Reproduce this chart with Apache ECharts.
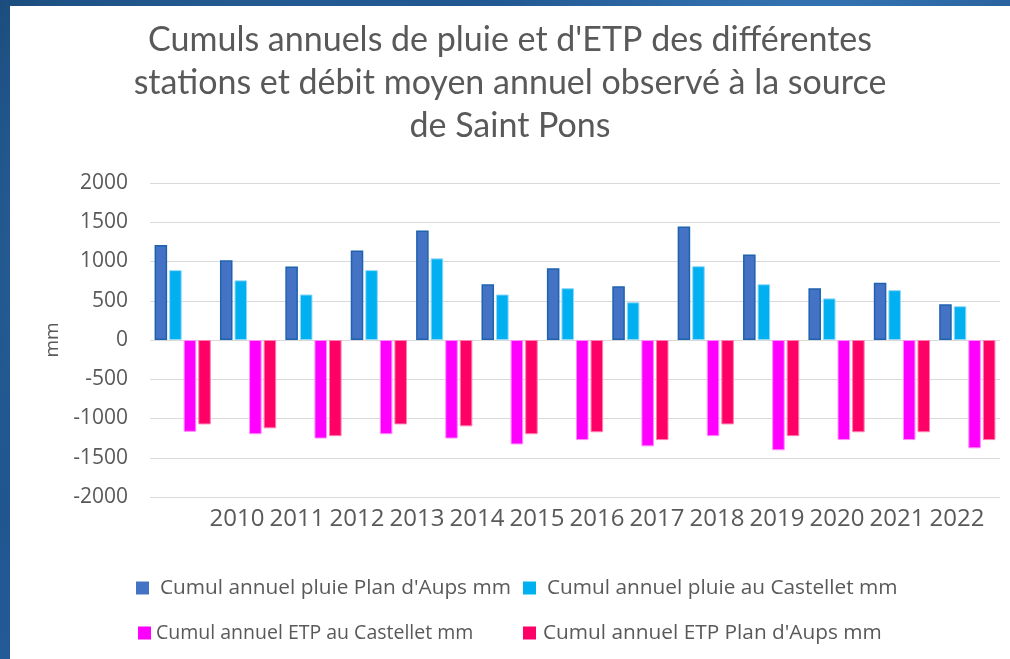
<!DOCTYPE html>
<html lang="fr">
<head>
  <meta charset="UTF-8">
  <title>Cumuls annuels de pluie et d'ETP</title>
  <script src="https://cdn.jsdelivr.net/npm/echarts@6/dist/echarts.min.js"></script>
  <style>
    html, body { margin: 0; padding: 0; width: 1010px; height: 659px; overflow: hidden; }
    body {
      background: #1d538a;
      background-image:
        radial-gradient(circle at 20% 30%, rgba(60,130,190,0.5) 0, rgba(60,130,190,0) 40%),
        radial-gradient(circle at 80% 10%, rgba(70,140,200,0.5) 0, rgba(70,140,200,0) 35%),
        linear-gradient(135deg, #174575, #2660a0 50%, #163f6c);
    }
    #chart { position: absolute; left: 10px; top: 6px; width: 1000px; height: 653px; background: #fff; }
  </style>
</head>
<body>
  <div id="chart"></div>
  <script>
    // annees et valeurs (mm)
    const years = ['2010', '2011', '2012', '2013', '2014', '2015', '2016', '2017', '2018', '2019', '2020', '2021', '2022'];
    const pluiePlanAups = [1210, 1015, 935, 1140, 1395, 710, 915, 685, 1445, 1090, 660, 730, 455];
    const pluieCastellet = [890, 760, 580, 890, 1040, 580, 660, 480, 940, 710, 530, 635, 430];
    const etpCastellet = [-1170, -1200, -1255, -1200, -1255, -1330, -1275, -1355, -1225, -1405, -1275, -1275, -1380];
    const etpPlanAups = [-1075, -1125, -1225, -1075, -1100, -1200, -1175, -1275, -1075, -1225, -1175, -1175, -1275];

    const names = [
      "Cumul annuel pluie Plan d'Aups mm",
      "Cumul annuel pluie au Castellet mm",
      "Cumul annuel ETP au Castellet mm",
      "Cumul annuel ETP Plan d'Aups mm"
    ];

    const grey = '#595959';
    const font = "'Open Sans', sans-serif";

    const chart = echarts.init(document.getElementById('chart'));

    // une legende par entree, placee comme dans l'original (2 x 2)
    function legendAt(name, left, top, pad, size) {
      return {
        data: [name],
        left: left,
        top: top,
        padding: 0,
        itemWidth: 13,
        itemHeight: 13,
        icon: 'rect',
        selectedMode: false,
        itemStyle: { borderWidth: 0 },
        textStyle: {
          color: grey, fontSize: size, fontFamily: font, lineHeight: 24,
          padding: [0, 0, 0, pad]
        }
      };
    }

    const option = {
      animation: false,
      title: {
        text: "Cumuls annuels de pluie et d'ETP des différentes\nstations et débit moyen annuel observé à la source\nde Saint Pons",
        left: 'center',
        top: 8,
        textStyle: { color: grey, fontSize: 34, fontWeight: 'normal', fontFamily: 'Lato, sans-serif', lineHeight: 43 }
      },
      legend: [
        legendAt(names[0], 126, 570, 6, 20.8),
        legendAt(names[1], 513, 570, 6, 20.8),
        legendAt(names[2], 128, 615, 0, 19.5),
        legendAt(names[3], 513, 615, 2, 20.8)
      ],
      grid: [
        { left: 140, right: 10, top: 177, bottom: 162 },
        { left: 197, width: 780, top: 177, bottom: 162 }
      ],
      xAxis: [
        {
          type: 'category', data: years, gridIndex: 0,
          axisLine: { show: false }, axisTick: { show: false }, axisLabel: { show: false }
        },
        {
          type: 'category', data: years, gridIndex: 1,
          axisLine: { show: false }, axisTick: { show: false },
          axisLabel: { color: grey, fontSize: 24, fontFamily: font, margin: 10, interval: 0 }
        }
      ],
      yAxis: [
        {
          type: 'value', gridIndex: 0, min: -2000, max: 2000, interval: 500,
          name: 'mm', nameLocation: 'middle', nameGap: 88, nameRotate: 90,
          nameTextStyle: { color: grey, fontSize: 19, fontFamily: font },
          axisLine: { show: false }, axisTick: { show: false },
          axisLabel: { color: grey, fontSize: 21, fontFamily: font, margin: 22, formatter: v => String(v) },
          splitLine: { lineStyle: { color: '#d9d9d9', width: 1 } }
        },
        {
          type: 'value', gridIndex: 1, min: -2000, max: 2000, show: false
        }
      ],
      series: [
        {
          name: names[0], type: 'bar', data: pluiePlanAups, barGap: '16%', barCategoryGap: '14%',
          itemStyle: { color: '#4472c4', borderColor: '#1f63b0', borderWidth: 1.5 }
        },
        {
          name: names[1], type: 'bar', data: pluieCastellet,
          itemStyle: { color: '#00b0f0', borderColor: '#8fd8f8', borderWidth: 1 }
        },
        {
          name: names[2], type: 'bar', data: etpCastellet,
          itemStyle: { color: '#ff00ff', borderColor: '#ff8cff', borderWidth: 1 }
        },
        {
          name: names[3], type: 'bar', data: etpPlanAups,
          itemStyle: { color: '#ff0066', borderColor: '#ff7fb0', borderWidth: 1 }
        }
      ]
    };

    chart.setOption(option);
  </script>
</body>
</html>
